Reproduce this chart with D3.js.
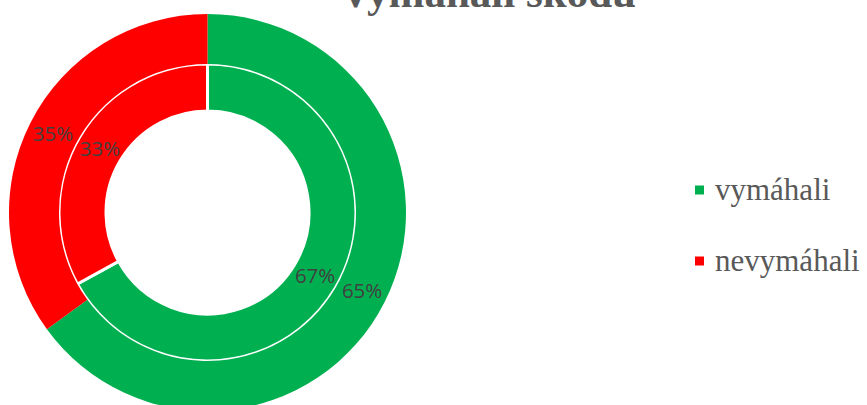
<!DOCTYPE html>
<html><head><meta charset="utf-8">
<script src="https://cdn.jsdelivr.net/npm/d3@7"></script>
<style>body{margin:0;background:#fff}svg{display:block}</style>
</head><body>
<svg id="c" width="867" height="405"></svg>
<script>
const title = "Vymáhali škodu";
const categories = ["vymáhali", "nevymáhali"];
const outerValues = [65, 35];
const innerValues = [67, 33];
const colors = ["#00B050", "#FF0000"];

const svg = d3.select("#c");
const cx = 207.5, cy = 212.5;
const rOuter = 198.5, rMid = 148.5, rInner = 101.5;

const pie = d3.pie().sort(null).value(d => d.v);
const mk = vals => pie(vals.map((v, i) => ({v, i})));
const color = d3.scaleOrdinal().domain(d3.range(categories.length)).range(colors);

const g = svg.append("g").attr("transform", `translate(${cx},${cy})`);

const arcIn = d3.arc().innerRadius(rInner).outerRadius(rMid);
const arcOut = d3.arc().innerRadius(rMid).outerRadius(rOuter);

g.selectAll("path.in").data(mk(innerValues)).join("path")
  .attr("class", "in").attr("d", arcIn)
  .attr("fill", d => color(d.data.i)).attr("stroke", "#fff").attr("stroke-width", 3);

g.selectAll("path.out").data(mk(outerValues)).join("path")
  .attr("class", "out").attr("d", arcOut)
  .attr("fill", d => color(d.data.i));

const lab = (data, arc) => g.selectAll(null).data(data).join("text")
  .attr("x", d => arc.centroid(d)[0]).attr("y", d => arc.centroid(d)[1])
  .attr("text-anchor", "middle").attr("dy", "0.35em")
  .attr("font-family", "'Open Sans', 'Noto Sans', sans-serif").attr("font-size", 20.5)
  .attr("fill", "#404040").text(d => d.data.v + "%");
lab(mk(innerValues), arcIn);
lab(mk(outerValues), arcOut);

svg.append("text").attr("x", 488).attr("y", 7).attr("text-anchor", "middle")
  .attr("font-family", "'Liberation Serif', 'Times New Roman', serif")
  .attr("font-weight", "bold").attr("font-size", 43).attr("fill", "#595959")
  .text(title);

const leg = svg.append("g");
const ly = d3.scalePoint().domain(categories).range([190, 261]);
categories.forEach((c, i) => {
  leg.append("rect").attr("x", 695).attr("y", ly(c) - 4.5).attr("width", 9).attr("height", 9)
    .attr("fill", colors[i]);
  leg.append("text").attr("x", 715).attr("y", ly(c)).attr("dy", "0.32em")
    .attr("font-family", "'Liberation Serif', 'Times New Roman', serif")
    .attr("font-size", 31).attr("fill", "#595959").text(c);
});
</script>
</body></html>
